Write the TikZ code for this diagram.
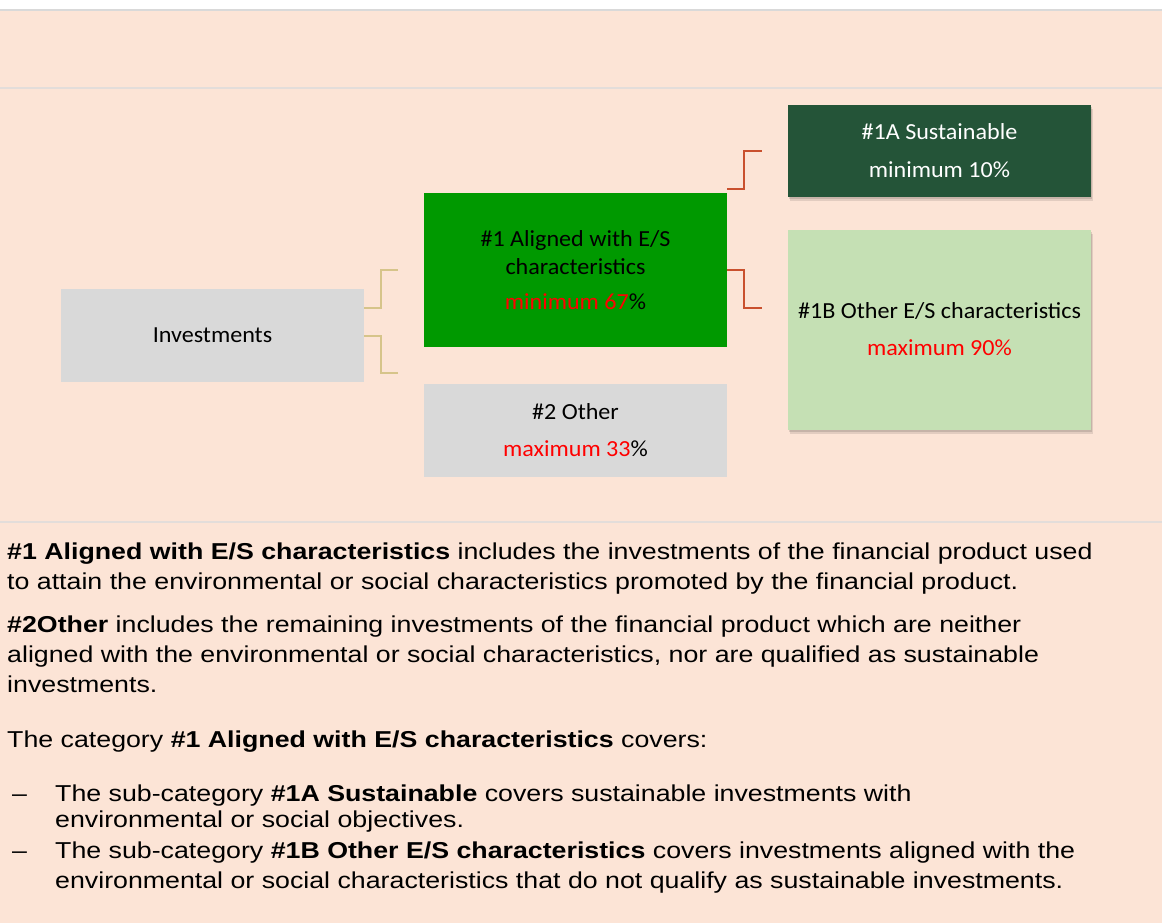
\documentclass[tikz,border=0pt]{standalone}
\usepackage{fontspec}
\usepackage{graphicx}
\setmainfont{Liberation Sans}
\newfontfamily\carl{Carlito}
\usetikzlibrary{calc}
\definecolor{peach}{HTML}{FCE4D6}
\definecolor{sepgray}{HTML}{E3DDDA}
\definecolor{topgray}{HTML}{D9D9D9}
\definecolor{boxgray}{HTML}{D9D9D9}
\definecolor{midgreen}{HTML}{009900}
\definecolor{darkgreen}{HTML}{245438}
\definecolor{lightgreen}{HTML}{C5E0B4}
\definecolor{tanline}{HTML}{D6C48A}
\definecolor{rustline}{HTML}{C9502E}
\definecolor{txtred}{HTML}{FF0000}
\newcommand{\bodyw}[1]{\scalebox{1.163}[1]{#1}}
\newcommand{\diagw}[1]{\scalebox{1.048}[1]{#1}}
\tikzset{
  box/.style={rectangle, draw=none, inner sep=0pt, minimum width=303pt},
  shadowed/.style={
    preaction={fill=black, opacity=0.10, transform canvas={xshift=2pt,yshift=-4pt}},
    preaction={fill=black, opacity=0.12, transform canvas={xshift=1pt,yshift=-2pt}}},
  dlabel/.style={anchor=base, inner sep=0pt, font=\carl\fontsize{23}{28}\selectfont},
  bline/.style={anchor=base west, inner sep=0pt, font=\fontsize{23}{28}\selectfont},
  sepline/.style={draw=sepgray, line width=2pt},
  tanconn/.style={draw=tanline, line width=2pt},
  rustconn/.style={draw=rustline, line width=2pt}
}
\begin{document}
\begin{tikzpicture}[x=1pt,y=-1pt]
\useasboundingbox (0,0) rectangle (1162,923);
\fill[white] (0,0) rectangle (1162,923);
\fill[peach] (0,10) rectangle (1162,923);
\draw[draw=topgray, line width=1.5pt] (0,10) -- (1162,10);
\draw[sepline] (0,88) -- (1162,88);
\draw[sepline] (0,522) -- (1162,522);

% boxes
\node[box, fill=boxgray, minimum height=93pt] (inv) at (212.5,335.5) {};
\node[box, fill=midgreen, minimum height=154pt] (al) at (575.5,270) {};
\node[box, fill=boxgray, minimum height=93pt] (oth) at (575.5,430.5) {};
\node[box, shadowed, fill=darkgreen, minimum height=92pt] (sus) at (939.5,151) {};
\node[box, shadowed, fill=lightgreen, minimum height=200pt] (oes) at (939.5,330) {};

% box labels
\node[dlabel] (invt) at (212.5,342) {\diagw{Investments}};
\node[dlabel] (alt1) at (575.5,246) {\diagw{\#1 Aligned with E/S}};
\node[dlabel] (alt2) at (575.5,274) {\diagw{characteristics}};
\node[dlabel] (alt3) at (575.5,309) {\diagw{{\color{txtred}minimum 67}\%}};
\node[dlabel] (otht1) at (575.5,419) {\diagw{\#2 Other}};
\node[dlabel] (otht2) at (575.5,456) {\diagw{{\color{txtred}maximum 33}\%}};
\node[dlabel, text=white] (sust1) at (939.5,140) {\diagw{\#1A Sustainable}};
\node[dlabel, text=white] (sust2) at (939.5,177) {\diagw{minimum 10\%}};
\node[dlabel] (oest1) at (939.5,318) {\diagw{\#1B Other E/S characteristics}};
\node[dlabel, text=txtred] (oest2) at (939.5,355) {\diagw{maximum 90\%}};

% connectors
\coordinate (a1e) at (398,270);
\coordinate (a2e) at (398,373);
\coordinate (b1e) at (762,151);
\coordinate (b2e) at (762,307.5);
\draw[tanconn] ($(inv.east)+(0,-28)$) -- ++(17,0) |- (a1e);
\draw[tanconn] (inv.east) -- ++(17,0) |- (a2e);
\draw[rustconn] ($(al.east)+(0,-81.5)$) -- ++(17,0) |- (b1e);
\draw[rustconn] (al.east) -- ++(17,0) |- (b2e);

% explanatory text
\node[bline] (l1) at (7,559) {\bodyw{\textbf{\#1 Aligned with E/S characteristics} includes the investments of the financial product used}};
\node[bline] (l2) at (7,589) {\bodyw{to attain the environmental or social characteristics promoted by the financial product.}};
\node[bline] (l3) at (7,632) {\bodyw{\textbf{\#2Other} includes the remaining investments of the financial product which are neither}};
\node[bline] (l4) at (7,662) {\bodyw{aligned with the environmental or social characteristics, nor are qualified as sustainable}};
\node[bline] (l5) at (7,692) {\bodyw{investments.}};
\node[bline] (l6) at (7,747) {\bodyw{The category \textbf{\#1 Aligned with E/S characteristics} covers:}};
\node[bline] (d1) at (12,801) {\bodyw{\textendash}};
\node[bline] (l7) at (55,801) {\bodyw{The sub-category \textbf{\#1A Sustainable} covers sustainable investments with}};
\node[bline] (l8) at (55,827) {\bodyw{environmental or social objectives.}};
\node[bline] (d2) at (12,858) {\bodyw{\textendash}};
\node[bline] (l9) at (55,858) {\bodyw{The sub-category \textbf{\#1B Other E/S characteristics} covers investments aligned with the}};
\node[bline] (l10) at (55,888) {\bodyw{environmental or social characteristics that do not qualify as sustainable investments.}};
\end{tikzpicture}
\end{document}
